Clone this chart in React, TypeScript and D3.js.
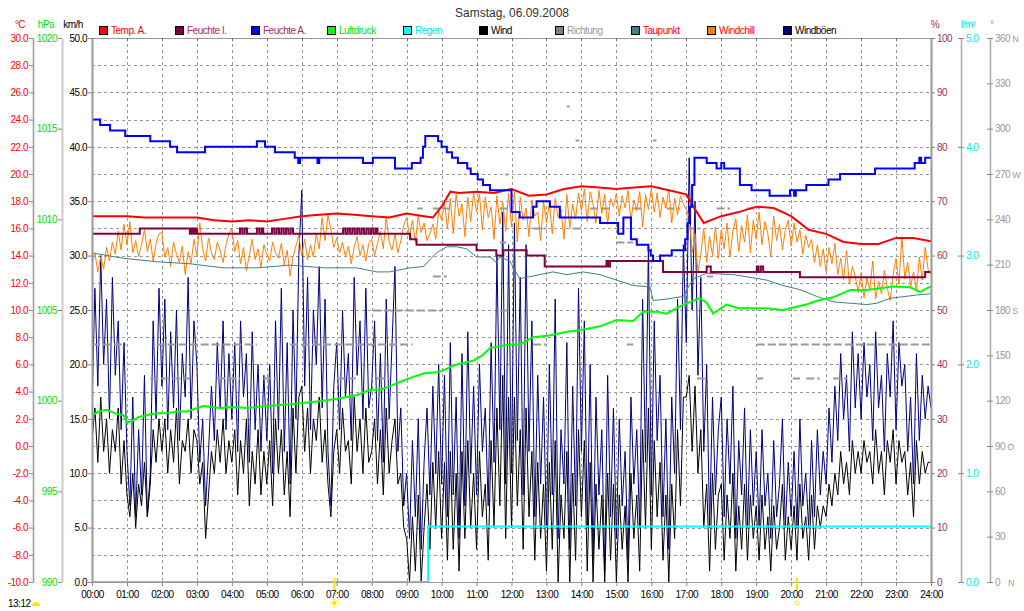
import React, { useRef, useEffect } from "react";
import * as d3 from "d3";

const W = 1024;
const H = 611;
const plotLeft = 92;
const plotRight = 931;
const plotTop = 38;
const plotBottom = 582;

const font = "'Liberation Sans', Arial, sans-serif";
const tight = "-0.5px";

const title = "Samstag, 06.09.2008";

const hourLabels = [
  "00:00", "01:00", "02:00", "03:00", "04:00", "05:00", "06:00", "07:00", "08:00",
  "09:00", "10:00", "11:00", "12:00", "13:00", "14:00", "15:00", "16:00", "17:00",
  "18:00", "19:00", "20:00", "21:00", "22:00", "23:00", "24:00",
];

const legendNames = ["Temp. A.", "Feuchte I.", "Feuchte A.", "Luftdruck", "Regen", "Wind", "Richtung", "Taupunkt", "Windchill", "Windböen"];
const legendColors = ["#ff0000", "#800040", "#0000ff", "#00ff00", "#00ffff", "#000000", "#808080", "#408080", "#ff8000", "#000080"];
const legendTextColors = ["#ff0000", "#993366", "#993366", "#00e000", "#00e8e8", "#000000", "#999999", "#ff0000", "#ff0000", "#000000"];

const tempTicks = [-10, -8, -6, -4, -2, 0, 2, 4, 6, 8, 10, 12, 14, 16, 18, 20, 22, 24, 26, 28, 30];
const hpaTicks = [990, 995, 1000, 1005, 1010, 1015, 1020];
const kmhTicks = [0, 5, 10, 15, 20, 25, 30, 35, 40, 45, 50];
const pctTicks = [0, 10, 20, 30, 40, 50, 60, 70, 80, 90, 100];
const rainTicks = [0, 1, 2, 3, 4, 5];
const dirTicks = [0, 30, 60, 90, 120, 150, 180, 210, 240, 270, 300, 330, 360];
const dirCompass: Record<number, string> = { 0: "N", 90: "O", 180: "S", 270: "W", 360: "N" };

// Temp. A. (°C)
const tempOut: [string, number][] = [
  ["00:00", 16.9], ["00:30", 16.9], ["01:00", 16.9], ["01:30", 16.8], ["02:00", 16.8], ["02:30", 16.8],
  ["03:00", 16.8], ["03:30", 16.6], ["04:00", 16.5], ["04:30", 16.6], ["05:00", 16.5], ["05:30", 16.7],
  ["06:00", 16.9], ["06:30", 17.0], ["07:00", 17.1], ["07:30", 17.0], ["08:00", 16.9], ["08:30", 16.8],
  ["09:00", 17.1], ["09:30", 16.9], ["09:45", 16.8], ["10:00", 17.6], ["10:15", 18.7], ["10:30", 18.6],
  ["11:00", 18.7], ["11:30", 18.6], ["12:00", 18.9], ["12:30", 18.4], ["13:00", 18.5], ["13:30", 18.9],
  ["14:00", 19.1], ["14:30", 19.0], ["15:00", 18.9], ["15:30", 19.0], ["16:00", 19.1], ["16:30", 18.8],
  ["17:00", 18.5], ["17:15", 17.4], ["17:30", 16.4], ["18:00", 16.9], ["18:30", 17.2], ["19:00", 17.6],
  ["19:30", 17.5], ["20:00", 16.9], ["20:30", 15.9], ["21:00", 15.6], ["21:30", 15.0], ["22:00", 14.85],
  ["22:30", 14.85], ["23:00", 15.3], ["23:30", 15.3], ["24:00", 15.05],
];

// Feuchte I. (%)
const humIn: [string, number][] = [
  ["00:00", 64], ["01:22", 65], ["02:48", 64], ["02:51", 65], ["02:54", 64], ["02:57", 65], ["03:00", 64],
  ["04:14", 65], ["04:18", 64], ["04:22", 65], ["04:26", 64],
  ["04:43", 65], ["04:47", 64], ["04:51", 65], ["04:54", 64],
  ["05:09", 65], ["05:13", 64], ["05:17", 65], ["05:21", 64], ["05:25", 65], ["05:29", 64], ["05:33", 65],
  ["05:37", 64], ["05:41", 65], ["05:45", 64],
  ["07:11", 65], ["07:15", 64], ["07:19", 65], ["07:23", 64], ["07:27", 65], ["07:31", 64], ["07:35", 65],
  ["07:39", 64], ["07:43", 65], ["07:47", 64], ["07:51", 65], ["07:55", 64], ["07:59", 65], ["08:03", 64],
  ["08:07", 65], ["08:10", 64],
  ["09:06", 63], ["09:17", 62], ["11:00", 61], ["11:34", 60], ["11:46", 61], ["12:26", 60], ["12:57", 58],
  ["14:43", 59], ["14:46", 58], ["14:49", 59], ["16:20", 57], ["17:35", 58], ["17:42", 57],
  ["19:01", 58], ["19:04", 57], ["19:08", 58], ["19:12", 57], ["20:15", 56], ["23:50", 57], ["24:00", 57],
];

// Feuchte A. (%)
const humOut: [string, number][] = [
  ["00:00", 85], ["00:14", 84], ["00:31", 83], ["00:57", 82], ["01:40", 81], ["02:14", 80], ["02:26", 79],
  ["03:14", 80], ["04:43", 81], ["04:57", 80], ["05:14", 79], ["05:48", 78], ["05:54", 77], ["05:57", 78],
  ["06:27", 77], ["06:30", 78], ["07:45", 77], ["08:02", 78], ["08:40", 76], ["09:09", 77], ["09:24", 78],
  ["09:28", 80], ["09:32", 82], ["09:54", 81], ["10:00", 80], ["10:09", 79], ["10:18", 78], ["10:28", 77],
  ["10:44", 76], ["10:50", 75], ["11:02", 74], ["11:11", 73], ["11:23", 72], ["12:00", 68], ["12:14", 67],
  ["12:37", 69], ["12:43", 70], ["13:06", 69], ["13:23", 67], ["14:32", 66], ["15:03", 64], ["15:12", 67],
  ["15:25", 63], ["15:35", 62], ["15:55", 61], ["15:59", 60], ["16:03", 59], ["16:15", 60], ["16:35", 61],
  ["16:58", 63], ["17:02", 66], ["17:06", 69], ["17:10", 73], ["17:14", 78], ["17:35", 77], ["17:52", 76],
  ["18:00", 77], ["18:05", 76], ["18:32", 73], ["18:52", 72], ["19:23", 71], ["19:58", 72], ["20:05", 71],
  ["20:08", 72], ["20:26", 73], ["21:04", 74], ["21:24", 75], ["22:24", 76], ["23:32", 77], ["23:40", 78],
  ["23:43", 77], ["23:50", 78], ["24:00", 78],
];

// Luftdruck (hPa)
const pressure: [string, number][] = [
  ["00:00", 999.2], ["00:12", 999.4], ["00:25", 999.5], ["00:40", 999.3], ["00:54", 999.2], ["01:00", 998.8],
  ["01:10", 998.9], ["01:20", 999.1], ["01:34", 999.2], ["01:50", 999.3], ["02:08", 999.3], ["02:25", 999.4],
  ["02:43", 999.4], ["03:11", 999.7], ["03:40", 999.6], ["04:00", 999.65], ["04:28", 999.6], ["05:00", 999.7],
  ["05:40", 999.8], ["06:10", 999.9], ["06:37", 1000.0], ["07:00", 1000.1], ["07:34", 1000.3], ["07:57", 1000.6],
  ["08:15", 1000.6], ["08:31", 1000.8], ["08:54", 1001.1], ["09:10", 1001.3], ["09:29", 1001.5], ["09:57", 1001.6],
  ["10:26", 1002.0], ["10:54", 1002.2], ["11:10", 1002.5], ["11:23", 1002.9], ["11:40", 1003.0], ["11:57", 1003.1],
  ["12:15", 1003.1], ["12:37", 1003.5], ["13:05", 1003.6], ["13:35", 1003.8], ["14:00", 1003.9], ["14:32", 1004.1],
  ["15:00", 1004.45], ["15:29", 1004.4], ["15:46", 1004.9], ["16:10", 1004.9], ["16:26", 1004.8], ["16:55", 1005.3],
  ["17:23", 1005.65], ["17:35", 1005.4], ["17:46", 1004.8], ["18:09", 1005.3], ["18:30", 1005.1], ["19:18", 1005.1],
  ["19:46", 1005.0], ["20:26", 1005.3], ["20:49", 1005.55], ["21:12", 1005.7], ["21:41", 1006.1], ["22:10", 1006.1],
  ["22:55", 1006.3], ["23:24", 1006.25], ["23:41", 1006.0], ["24:00", 1006.3],
];

// Regen (l/m²)
const rain: [string, number][] = [["00:00", 0], ["09:37", 0.51], ["24:00", 0.51]];

// Taupunkt (°C)
const dewPoint: [string, number][] = [
  ["00:00", 14.2], ["00:54", 13.8], ["01:51", 13.55], ["02:48", 13.4], ["03:45", 13.1], ["04:43", 13.1],
  ["05:40", 13.3], ["06:37", 13.1], ["07:34", 13.1], ["08:09", 12.8], ["08:31", 12.8], ["09:06", 13.1],
  ["09:29", 13.2], ["09:51", 14.2], ["10:09", 14.65], ["10:26", 14.65], ["10:43", 14.5], ["11:00", 13.9],
  ["11:23", 13.9], ["11:34", 13.5], ["11:40", 13.9], ["11:57", 13.6], ["12:14", 12.3], ["12:37", 12.5],
  ["13:11", 12.8], ["13:35", 12.6], ["14:03", 12.8], ["14:32", 12.6], ["15:00", 12.2], ["15:29", 11.8],
  ["15:58", 11.7], ["16:03", 10.7], ["16:26", 10.8], ["16:55", 11.0], ["17:05", 11.8], ["17:13", 12.3],
  ["17:35", 12.7], ["18:21", 12.6], ["19:18", 12.2], ["19:46", 11.8], ["20:15", 11.5], ["20:44", 11.0],
  ["21:12", 10.6], ["21:41", 10.5], ["22:10", 10.4], ["22:27", 10.5], ["22:50", 10.86], ["23:07", 10.95],
  ["23:35", 11.1], ["24:00", 11.2],
];

// 5-minute samples, 00:00 .. 24:00
const sampleStepMin = 5;

// Windböen (km/h)
const gustKmh = [
  16, 27, 18, 30, 20, 26, 15, 28, 19, 24, 14, 22,
  12, 7, 17, 6, 14, 8, 19, 6, 10, 24, 15, 27,
  18, 26, 14, 23, 16, 25, 13, 21, 17, 28, 15, 24,
  20, 11, 15, 7, 12, 18, 13, 22, 16, 24, 14, 21,
  15, 22, 12, 24, 17, 21, 11, 23, 14, 20, 12, 19,
  13, 20, 10, 24, 14, 27, 12, 22, 9, 25, 15, 30,
  36, 18, 28, 14, 25, 20, 29, 16, 26, 12, 7, 18,
  22, 14, 25, 17, 21, 13, 28, 19, 24, 15, 27, 16,
  18, 24, 13, 21, 11, 26, 15, 22, 29, 12, 16, 7,
  10, 4, 13, 6, 15, 3, 11, 16, 8, 18, 10, 20,
  9, 19, 6, 22, 8, 17, 4, 21, 7, 23, 10, 18,
  8, 20, 12, 16, 7, 22, 11, 30, 14, 34, 9, 31,
  10, 33, 13, 28, 8, 31, 12, 24, 6, 19, 9, 17,
  5, 20, 8, 26, 4, 14, 9, 22, 3, 18, 7, 27,
  12, 24, 5, 20, 2, 17, 8, 14, 1, 19, 6, 16,
  4, 15, 7, 12, 2, 17, 9, 14, 5, 26, 11, 31,
  8, 24, 13, 19, 6, 15, 3, 17, 10, 26, 14, 31,
  22, 39, 25, 35, 19, 28, 12, 20, 5, 17, 8, 14,
  17, 6, 15, 9, 18, 4, 13, 8, 16, 5, 14, 7,
  12, 5, 14, 7, 10, 4, 13, 6, 9, 15, 5, 11,
  6, 12, 5, 15, 7, 10, 5, 13, 6, 14, 8, 12,
  9, 16, 11, 18, 13, 21, 15, 19, 12, 23, 16, 21,
  15, 22, 17, 20, 13, 23, 16, 19, 12, 21, 17, 24,
  14, 22, 18, 20, 12, 17, 9, 21, 13, 19, 15, 18,
  16,
];

// Wind (km/h)
const windKmh = [
  13, 16, 11, 17, 12, 15, 10, 14, 12, 16, 9, 13,
  8, 6, 10, 5, 9, 7, 11, 6, 9, 14, 11, 15,
  12, 15, 10, 14, 11, 16, 9, 13, 12, 15, 10, 14,
  13, 9, 11, 4, 8, 12, 10, 14, 11, 15, 10, 13,
  11, 14, 8, 13, 10, 15, 7, 12, 9, 14, 8, 12,
  9, 13, 7, 15, 10, 14, 8, 12, 6, 16, 10, 17,
  18, 12, 16, 10, 15, 13, 17, 11, 14, 9, 6, 12,
  14, 10, 16, 12, 13, 9, 17, 12, 15, 10, 16, 11,
  12, 15, 9, 14, 8, 16, 10, 13, 15, 9, 10, 5,
  4, 0, 6, 1, 8, 0, 5, 9, 3, 11, 5, 12,
  4, 11, 2, 12, 3, 10, 1, 12, 4, 13, 5, 10,
  3, 12, 6, 9, 2, 13, 5, 16, 7, 19, 4, 17,
  5, 17, 7, 14, 3, 16, 6, 12, 2, 11, 4, 9,
  1, 11, 3, 13, 0, 8, 4, 12, 0, 10, 2, 14,
  6, 13, 1, 11, 0, 9, 3, 8, 0, 10, 2, 9,
  0, 8, 3, 7, 0, 10, 4, 8, 1, 14, 5, 16,
  3, 13, 6, 11, 2, 8, 0, 9, 4, 14, 7, 17,
  17, 19, 12, 18, 10, 14, 5, 9, 1, 10, 3, 8,
  9, 2, 8, 4, 10, 1, 7, 3, 9, 2, 8, 4,
  7, 2, 8, 3, 6, 1, 7, 3, 5, 9, 2, 6,
  3, 7, 2, 9, 4, 6, 2, 8, 3, 7, 5, 7,
  6, 9, 7, 10, 8, 12, 9, 11, 8, 13, 10, 12,
  10, 13, 11, 12, 9, 14, 10, 12, 8, 13, 11, 14,
  9, 13, 11, 12, 8, 11, 6, 13, 9, 12, 10, 11,
  11,
];

// Windchill (°C)
const windchillC = [
  13.5, 14.2, 12.8, 13.9, 13.0, 14.6, 13.6, 15.0, 14.1, 15.8, 14.4, 16.3,
  14.8, 16.5, 14.2, 15.1, 13.9, 14.8, 15.9, 14.3, 15.2, 13.6, 14.9, 15.6,
  15.7, 13.9, 14.6, 13.2, 15.0, 14.1, 13.5, 14.7, 12.6, 14.3, 13.4, 15.2,
  14.0, 16.4, 14.5, 13.6, 15.3, 14.2, 13.7, 15.0, 14.4, 13.5, 14.8, 15.6,
  16.0, 14.3, 15.1, 13.4, 14.6, 12.9, 14.0, 15.2, 13.7, 14.5, 13.1, 14.8,
  14.1, 13.6, 15.0, 14.2, 13.8, 14.9, 13.3, 14.4, 12.5, 13.9, 14.7, 15.5,
  14.0, 15.2, 13.7, 14.8, 13.9, 15.6, 14.5, 16.8, 15.1, 17.0, 15.9, 14.6,
  15.3, 14.2, 15.0, 13.9, 14.7, 13.4, 14.6, 15.4, 14.0, 14.8, 13.6, 14.9,
  15.2, 14.0, 14.9, 15.8, 14.5, 16.9, 15.0, 14.4, 15.6, 14.2, 15.1, 16.2,
  16.8, 15.4, 16.6, 15.0, 16.9, 15.7, 16.4, 15.1, 15.6, 16.3, 15.2, 17.3,
  16.6, 17.9, 16.0, 18.2, 15.6, 18.5, 16.9, 17.8, 15.4, 18.3, 16.5, 18.6,
  17.2, 18.5, 15.9, 18.3, 16.8, 17.6, 15.2, 18.4, 16.3, 17.9, 15.8, 18.6,
  16.1, 18.7, 15.0, 18.3, 16.6, 17.5, 15.4, 18.1, 16.9, 17.2, 15.1, 18.0,
  16.4, 17.9, 15.6, 18.2, 16.8, 17.4, 15.2, 18.5, 16.0, 17.8, 16.7, 18.6,
  17.3, 18.9, 16.5, 18.7, 17.8, 16.4, 18.8, 17.1, 18.5, 16.3, 18.2, 17.6,
  18.6, 16.9, 18.4, 17.5, 18.8, 16.6, 18.1, 17.3, 18.7, 16.1, 18.5, 17.4,
  18.9, 17.2, 18.6, 16.8, 18.3, 17.5, 18.9, 16.4, 18.2, 17.0, 18.4, 17.8,
  17.4, 16.9, 14.2, 15.6, 12.8, 14.1, 16.0, 13.5, 15.4, 14.0, 16.1, 13.8,
  15.9, 14.5, 16.4, 13.9, 15.8, 16.7, 14.3, 16.2, 15.0, 17.0, 14.2, 16.6,
  15.2, 17.2, 14.8, 16.5, 15.6, 13.9, 16.9, 15.1, 16.3, 14.4, 15.9, 16.6,
  14.7, 16.4, 15.0, 15.9, 14.1, 15.5, 14.6, 15.2, 13.5, 14.8, 13.2, 14.5,
  12.8, 14.6, 13.4, 14.9, 12.6, 13.8, 12.2, 14.4, 11.9, 13.2, 12.5, 11.3,
  12.7, 10.9, 12.4, 11.5, 13.6, 10.8, 12.1, 11.2, 12.9, 11.6, 10.7, 12.6,
  13.8, 11.9, 15.4, 12.3, 13.5, 11.7, 12.8, 11.4, 13.9, 12.2, 14.6, 13.0,
  12.6,
];

// Richtung (°): spans where the direction held a value
const dirSegments: [string, string, number][] = [
  ["00:00", "00:58", 157.5], ["01:51", "04:43", 157.5], ["05:40", "09:10", 157.5], ["12:37", "13:00", 157.5],
  ["15:18", "15:29", 157.5], ["19:01", "24:00", 157.5],
  ["01:40", "02:48", 135], ["03:35", "04:14", 135], ["04:54", "05:18", 135], ["07:00", "07:35", 135],
  ["08:09", "08:31", 135], ["17:18", "17:35", 135], ["19:01", "19:12", 135], ["20:03", "20:15", 135],
  ["20:26", "20:49", 135], ["21:12", "21:36", 135],
  ["08:02", "10:02", 180], ["11:40", "11:57", 180],
  ["09:18", "09:28", 247.5], ["09:45", "10:14", 247.5], ["11:40", "11:57", 247.5], ["14:15", "14:49", 247.5],
  ["15:29", "15:46", 247.5], ["16:26", "16:49", 247.5], ["17:52", "18:15", 247.5], ["18:44", "19:06", 247.5],
  ["12:37", "13:00", 234], ["13:46", "14:03", 234], ["17:00", "17:23", 234],
  ["11:40", "11:51", 225], ["15:00", "15:29", 225],
  ["09:45", "10:09", 202.5], ["17:35", "17:46", 202.5],
  ["11:49", "11:54", 270], ["13:50", "13:56", 292.5], ["16:03", "16:09", 292.5], ["13:35", "13:40", 315],
];

const sunTimes = { rise: "06:56", set: "20:10" };
const clockLabel = "13:12";

const toMin = (s: string) => {
  const [h, m] = s.split(":").map(Number);
  return h * 60 + m;
};

export default function App() {
  const ref = useRef<SVGSVGElement | null>(null);

  useEffect(() => {
    if (!ref.current) return;
    const svg = d3.select(ref.current);
    svg.selectAll("*").remove();

    const x = d3.scaleLinear().domain([0, 1440]).range([plotLeft, plotRight]);
    const yKmh = d3.scaleLinear().domain([0, 50]).range([plotBottom, plotTop]);
    const yTemp = d3.scaleLinear().domain([-10, 30]).range([plotBottom, plotTop]);
    const yHpa = d3.scaleLinear().domain([990, 1020]).range([plotBottom, plotTop]);
    const yPct = d3.scaleLinear().domain([0, 100]).range([plotBottom, plotTop]);
    const yRain = d3.scaleLinear().domain([0, 5]).range([plotBottom, plotTop]);
    const yDir = d3.scaleLinear().domain([0, 360]).range([plotBottom, plotTop]);

    svg.append("rect").attr("width", W).attr("height", H).attr("fill", "#fff");

    // title
    svg.append("text")
      .attr("x", 512).attr("y", 17)
      .attr("text-anchor", "middle")
      .attr("font-family", font)
      .attr("font-size", 12)
      .attr("fill", "#333")
      .text(title);

    // legend
    const legend = svg.append("g");
    legendNames.forEach((name, i) => {
      const lx = 99 + i * 76;
      legend.append("rect")
        .attr("x", lx + 0.5).attr("y", 26.5).attr("width", 8).attr("height", 8)
        .attr("fill", legendColors[i]).attr("stroke", "#000");
      legend.append("text")
        .attr("x", lx + 12).attr("y", 34)
        .attr("font-family", font).attr("font-size", 10).attr("letter-spacing", tight)
        .attr("fill", legendTextColors[i])
        .text(name);
    });

    // units
    const units: [number, string, string][] = [
      [20, "°C", "#ff0000"], [46, "hPa", "#00e000"], [73, "km/h", "#000"],
      [935, "%", "#993366"], [968, "l/m²", "#00e8e8"], [992, "°", "#999"],
    ];
    units.forEach(([ux, t, c]) => {
      svg.append("text")
        .attr("x", ux).attr("y", 28).attr("text-anchor", "middle")
        .attr("font-family", font).attr("font-size", 10).attr("letter-spacing", tight)
        .attr("fill", c).text(t);
    });

    // grid
    const grid = svg.append("g")
      .attr("stroke", "#999").attr("stroke-width", 1).attr("stroke-dasharray", "3,3");
    d3.range(1, 20).forEach((k) => {
      const gy = Math.round(yKmh(k * 2.5)) + 0.5;
      grid.append("line").attr("x1", plotLeft).attr("x2", plotRight).attr("y1", gy).attr("y2", gy);
    });
    d3.range(1, 24).forEach((h) => {
      const gx = Math.round(x(h * 60)) + 0.5;
      grid.append("line").attr("x1", gx).attr("x2", gx).attr("y1", plotTop).attr("y2", plotBottom);
    });

    // top frame with hour ticks
    svg.append("line")
      .attr("x1", plotLeft).attr("x2", plotRight).attr("y1", plotTop + 0.5).attr("y2", plotTop + 0.5)
      .attr("stroke", "#999");
    hourLabels.forEach((_, h) => {
      const gx = Math.round(x(h * 60)) + 0.5;
      svg.append("line").attr("x1", gx).attr("x2", gx).attr("y1", plotTop).attr("y2", plotTop + 3).attr("stroke", "#666");
    });

    const plot = svg.append("g");
    const clipId = "plotclip";
    svg.append("clipPath").attr("id", clipId)
      .append("rect").attr("x", plotLeft).attr("y", plotTop - 2).attr("width", plotRight - plotLeft).attr("height", plotBottom - plotTop + 4);
    plot.attr("clip-path", `url(#${clipId})`);

    const pairs = (arr: [string, number][]) => arr.map(([t, v]) => [toMin(t), v] as [number, number]);
    const sampled = (arr: number[]) => arr.map((v, i) => [i * sampleStepMin, v] as [number, number]);

    const drawLine = (
      data: [number, number][],
      y: d3.ScaleLinear<number, number>,
      color: string,
      width: number,
      curve: d3.CurveFactory = d3.curveLinear,
    ) => {
      const gen = d3.line<[number, number]>().x((d) => x(d[0])).y((d) => y(d[1])).curve(curve);
      plot.append("path")
        .attr("d", gen(data) || "")
        .attr("fill", "none")
        .attr("stroke", color)
        .attr("stroke-width", width)
        .attr("stroke-linejoin", "miter");
    };

    drawLine(sampled(gustKmh), yKmh, "#000080", 1);
    drawLine(sampled(windKmh), yKmh, "#000000", 1);

    // wind direction spans
    dirSegments.forEach(([a, b, deg]) => {
      const dy = Math.round(yDir(deg)) + 0.5;
      plot.append("line")
        .attr("x1", x(toMin(a))).attr("x2", x(toMin(b)))
        .attr("y1", dy).attr("y2", dy)
        .attr("stroke", "#999").attr("stroke-width", 2).attr("stroke-dasharray", "8,3");
    });

    drawLine(sampled(windchillC), yTemp, "#ff8000", 1);
    drawLine(pairs(dewPoint), yTemp, "#408080", 1);
    drawLine(pairs(rain), yRain, "#00ffff", 2, d3.curveStepAfter);
    drawLine(pairs(pressure), yHpa, "#00ff00", 2);
    drawLine(pairs(humIn), yPct, "#800040", 2, d3.curveStepAfter);
    drawLine(pairs(tempOut), yTemp, "#ff0000", 2);
    drawLine(pairs(humOut), yPct, "#0000ff", 2, d3.curveStepAfter);

    // axes
    const styleAxis = (g: any, domainColor: string, domainWidth: number, textColor: string) => {
      g.attr("font-family", font).attr("font-size", 10).attr("letter-spacing", tight);
      g.select(".domain").attr("stroke", domainColor).attr("stroke-width", domainWidth);
      g.selectAll(".tick line").attr("stroke", "#888");
      g.selectAll(".tick text").attr("fill", textColor);
    };

    svg.append("g").attr("transform", "translate(33,0)")
      .call(d3.axisLeft(yTemp).tickValues(tempTicks).tickFormat((d: any) => d.toFixed(1)).tickSize(4).tickSizeOuter(0).tickPadding(1))
      .call((g) => styleAxis(g, "#999", 1.5, "#ff0000"));

    svg.append("g").attr("transform", "translate(62,0)")
      .call(d3.axisLeft(yHpa).tickValues(hpaTicks).tickFormat((d: any) => String(d)).tickSize(4).tickSizeOuter(0).tickPadding(1))
      .call((g) => styleAxis(g, "#ccc", 2, "#00e000"));

    svg.append("g").attr("transform", `translate(${plotLeft},0)`)
      .call(d3.axisLeft(yKmh).tickValues(kmhTicks).tickFormat((d: any) => d.toFixed(1)).tickSize(4).tickSizeOuter(0).tickPadding(1))
      .call((g) => styleAxis(g, "#999", 2, "#000"));

    svg.append("g").attr("transform", `translate(${plotRight},0)`)
      .call(d3.axisRight(yPct).tickValues(pctTicks).tickFormat((d: any) => String(d)).tickSize(4).tickSizeOuter(0).tickPadding(2))
      .call((g) => styleAxis(g, "#999", 2, "#993366"));

    svg.append("g").attr("transform", "translate(961,0)")
      .call(d3.axisRight(yRain).tickValues(rainTicks).tickFormat((d: any) => d.toFixed(1)).tickSize(3).tickSizeOuter(0).tickPadding(2))
      .call((g) => styleAxis(g, "#aaa", 1.5, "#00e8e8"))
      .call((g) => g.selectAll(".tick line").attr("x1", -3));

    svg.append("g").attr("transform", "translate(990,0)")
      .call(d3.axisRight(yDir).tickValues(dirTicks).tickFormat((d: any) => String(d)).tickSize(3).tickSizeOuter(0).tickPadding(2))
      .call((g) => styleAxis(g, "#aaa", 1.5, "#999"))
      .call((g) => g.selectAll(".tick line").attr("x1", -3))
      .call((g) =>
        g.selectAll(".tick text").each(function (d: any) {
          const c = dirCompass[d];
          if (c) {
            d3.select(this).append("tspan").attr("dx", d === 0 ? 8 : 2).attr("font-size", 9).text(c);
          }
        }),
      );

    // time axis
    svg.append("g").attr("transform", `translate(0,${plotBottom})`)
      .call(
        d3.axisBottom(x)
          .tickValues(hourLabels.map((_, h) => h * 60))
          .tickFormat((_d: any, i: number) => hourLabels[i])
          .tickSize(4).tickSizeOuter(0).tickPadding(5),
      )
      .call((g) => {
        g.attr("font-family", font).attr("font-size", 10).attr("letter-spacing", tight);
        g.select(".domain").attr("stroke", "#999");
        g.selectAll(".tick line").attr("stroke", "#888");
        g.selectAll(".tick text").attr("fill", "#000");
      });

    // sunrise / sunset markers
    const riseX = x(toMin(sunTimes.rise));
    const setX = x(toMin(sunTimes.set));
    [riseX, setX].forEach((sx) => {
      svg.append("rect").attr("x", sx - 1).attr("y", 578).attr("width", 2).attr("height", 12).attr("fill", "#ffe600");
    });
    const sun = svg.append("g").attr("transform", `translate(${riseX},603)`);
    sun.append("circle").attr("r", 2.2).attr("fill", "#ffe600");
    d3.range(8).forEach((k) => {
      const a = (k * Math.PI) / 4;
      sun.append("line")
        .attr("x1", Math.cos(a) * 3).attr("y1", Math.sin(a) * 3)
        .attr("x2", Math.cos(a) * 4.5).attr("y2", Math.sin(a) * 4.5)
        .attr("stroke", "#ffe600").attr("stroke-width", 1);
    });
    svg.append("circle").attr("cx", setX).attr("cy", 603).attr("r", 2).attr("fill", "none").attr("stroke", "#ffe600");

    svg.append("text")
      .attr("x", 8).attr("y", 607)
      .attr("font-family", font).attr("font-size", 10).attr("letter-spacing", tight).attr("fill", "#000")
      .text(clockLabel);
    svg.append("path").attr("d", "M32,606 A4,4 0 0 1 40,606 Z").attr("fill", "#ffe600");
  }, []);

  return (
    <svg
      ref={ref}
      width={W}
      height={H}
      style={{ position: "absolute", left: 0, top: 0, display: "block" }}
    />
  );
}
